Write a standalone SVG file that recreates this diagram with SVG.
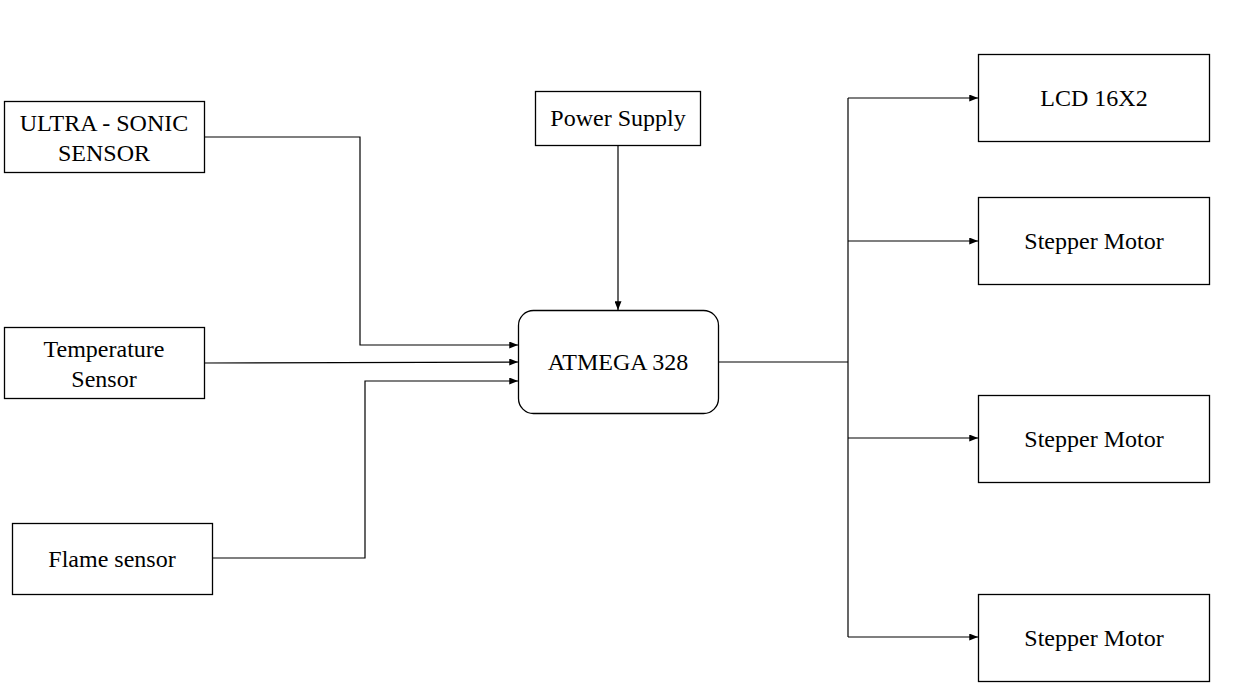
<svg xmlns="http://www.w3.org/2000/svg" width="1255" height="692" viewBox="0 0 1255 692">
<style>
.box{fill:#fff;stroke:#000;stroke-width:1.3}
.t{font-size:24px;fill:#000;text-anchor:middle}
.c{fill:none;stroke:#000;stroke-width:1.2}
</style>
<defs>
<marker id="a" viewBox="0 0 10 8" refX="10" refY="4" markerWidth="9" markerHeight="7" markerUnits="userSpaceOnUse" orient="auto">
<path d="M0,0 L10,4 L0,8 Z" fill="#000"/>
</marker>
</defs>
<rect width="1255" height="692" fill="#fff"/>
<g id="connectors">
<path class="c" d="M204,137 H360 V345 H518" marker-end="url(#a)"/>
<path class="c" d="M204,363 L518,362" marker-end="url(#a)"/>
<path class="c" d="M212,558 H365 V381 H518" marker-end="url(#a)"/>
<path class="c" d="M618,145 V310" marker-end="url(#a)"/>
<path class="c" d="M718,362 H848"/>
<path class="c" d="M848,98 V637"/>
<path class="c" d="M848,98 H978" marker-end="url(#a)"/>
<path class="c" d="M848,241 H978" marker-end="url(#a)"/>
<path class="c" d="M848,438 H978" marker-end="url(#a)"/>
<path class="c" d="M848,637 H978" marker-end="url(#a)"/>
</g>
<g font-family="Liberation Serif, Times New Roman, serif">
<g id="ultrasonic">
<rect class="box" x="4.5" y="101.5" width="200" height="71"/>
<text class="t" x="104" y="131">ULTRA - SONIC</text>
<text class="t" x="104" y="161">SENSOR</text>
</g>
<g id="temperature">
<rect class="box" x="4.5" y="327.5" width="200" height="71"/>
<text class="t" x="104" y="357">Temperature</text>
<text class="t" x="104" y="387">Sensor</text>
</g>
<g id="flame">
<rect class="box" x="12.5" y="523.5" width="200" height="71"/>
<text class="t" x="112" y="567">Flame sensor</text>
</g>
<g id="power">
<rect class="box" x="535.5" y="91.5" width="165" height="54"/>
<text class="t" x="618" y="126">Power Supply</text>
</g>
<g id="atmega">
<rect class="box" x="518.5" y="310.5" width="200" height="103" rx="15"/>
<text class="t" x="618" y="370">ATMEGA 328</text>
</g>
<g id="lcd">
<rect class="box" x="978.5" y="54.5" width="231" height="87"/>
<text class="t" x="1094" y="106">LCD 16X2</text>
</g>
<g id="stepper1">
<rect class="box" x="978.5" y="197.5" width="231" height="87"/>
<text class="t" x="1094" y="249">Stepper Motor</text>
</g>
<g id="stepper2">
<rect class="box" x="978.5" y="395.5" width="231" height="87"/>
<text class="t" x="1094" y="447">Stepper Motor</text>
</g>
<g id="stepper3">
<rect class="box" x="978.5" y="594.5" width="231" height="87"/>
<text class="t" x="1094" y="646">Stepper Motor</text>
</g>
</g>
</svg>
